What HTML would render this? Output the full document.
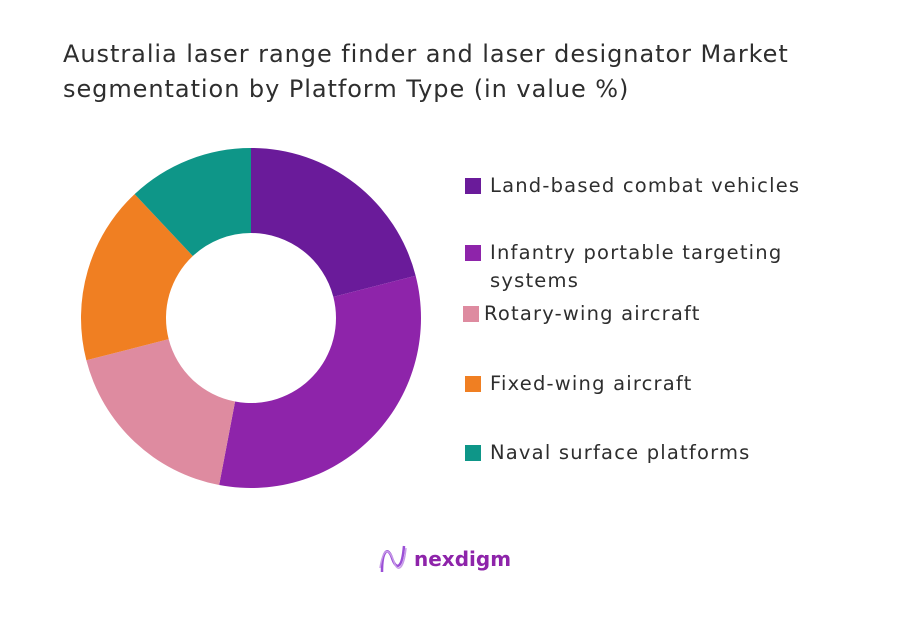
<!DOCTYPE html>
<html><head><meta charset="utf-8"><style>
body{margin:0;width:901px;height:618px;background:#fff;font-family:"DejaVu Sans","Liberation Sans",sans-serif;overflow:hidden;position:relative}
.title{position:absolute;left:63px;top:37px;font-size:24px;line-height:35px;color:#2e2e2e;letter-spacing:0.95px;white-space:nowrap}
.leg{position:absolute;font-size:19.5px;color:#2e2e2e;line-height:28px;letter-spacing:1.2px;white-space:nowrap}
.sw{position:absolute;width:16px;height:16px}
</style></head><body>
<div class="title">Australia laser range finder and laser designator Market<br>segmentation by Platform Type (in value %)</div>
<svg id="chart" width="901" height="618" style="position:absolute;left:0;top:0"></svg>
<div id="legend"></div>
<svg style="position:absolute;left:378px;top:540px" width="140" height="40">
<path d="M4 32 C4 10 10 6 14 18 C18 30 24 30 26 6" stroke="#9b4fd6" stroke-width="2.5" fill="none"/>
<path d="M2 28 C6 4 12 10 16 22 C20 34 26 28 28 8" stroke="#c79be8" stroke-width="1.5" fill="none"/>
<text x="36" y="26" font-family="DejaVu Sans,sans-serif" font-size="20" font-weight="bold" fill="#8e24aa">nexdigm</text>
</svg>
<script>
const categories=["Land-based combat vehicles","Infantry portable targeting systems","Rotary-wing aircraft","Fixed-wing aircraft","Naval surface platforms"];
const values=[21,32,18,17,12];
const colors=["#6a1b9a","#8e24aa","#de8ba0","#f07f22","#0e9688"];
const cx=251,cy=318,R=170,r=85;
const svg=document.getElementById('chart');
const total=values.reduce((a,b)=>a+b,0);
let a0=0;
function pt(a,rad){return [cx+rad*Math.sin(a),cy-rad*Math.cos(a)];}
values.forEach((v,i)=>{
 const a1=a0+v/total*2*Math.PI;
 const [x0,y0]=pt(a0,R),[x1,y1]=pt(a1,R),[x2,y2]=pt(a1,r),[x3,y3]=pt(a0,r);
 const lg=(a1-a0)>Math.PI?1:0;
 const p=document.createElementNS('http://www.w3.org/2000/svg','path');
 p.setAttribute('d',`M${x0} ${y0}A${R} ${R} 0 ${lg} 1 ${x1} ${y1}L${x2} ${y2}A${r} ${r} 0 ${lg} 0 ${x3} ${y3}Z`);
 p.setAttribute('fill',colors[i]);
 
 
 svg.appendChild(p);
 a0=a1;
});
const legTops=[172,239,300,370,439];
const leg=document.getElementById('legend');
categories.forEach((c,i)=>{
 const sw=document.createElement('div');sw.className='sw';
 sw.style.left=(i==2?463:465)+'px';sw.style.top=(legTops[i]+6)+'px';sw.style.background=colors[i];
 
 
 leg.appendChild(sw);
 const t=document.createElement('div');t.className='leg';
 t.style.left=(i==2?484:490)+'px';t.style.top=legTops[i]+'px';
 t.innerHTML=i==1?'Infantry portable targeting<br>systems':c;
 
 
 leg.appendChild(t);
});
</script>
</body></html>
